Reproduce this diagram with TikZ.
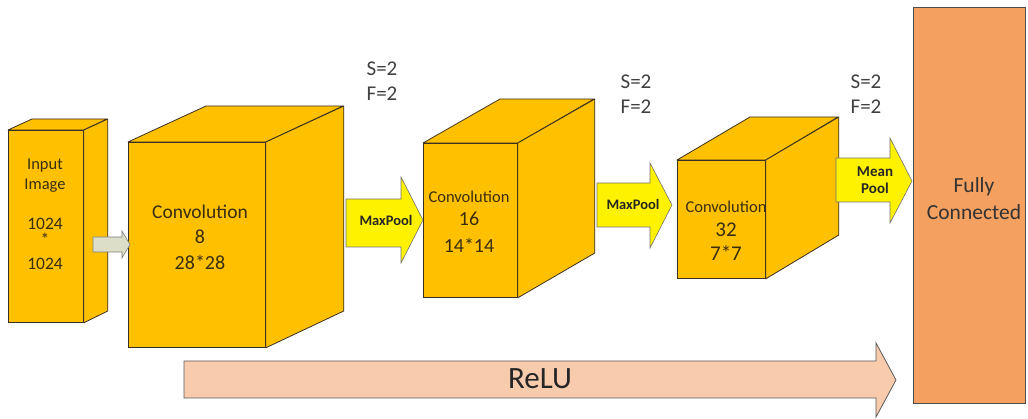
\documentclass[tikz,border=0pt]{standalone}
\usepackage{fontspec}
\setmainfont{Carlito}
\definecolor{gold}{HTML}{FFC000}
\definecolor{edge}{HTML}{3A3020}
\definecolor{ytxt}{HTML}{3A2E10}
\definecolor{relufill}{HTML}{F8CBAD}
\definecolor{fcfill}{HTML}{F4A060}
\definecolor{greyarrow}{HTML}{DCDEC8}
\newcommand{\mycube}[7]{%
  \node[front, minimum width=#4pt, minimum height=#5pt, anchor=north west] (#1) at (#2,#3) {};
  \draw[face] (#1.north west) -- ++(#6,-#7) -- ++(#4,0) -- (#1.north east) -- cycle;
  \draw[face] (#1.north east) -- ++(#6,-#7) -- ++(0,#5) -- (#1.south east) -- cycle;
}
\newcommand{\fs}[2]{\fontsize{#1}{#2}\selectfont}
\begin{document}
\begin{tikzpicture}[x=1pt,y=-1pt,
  front/.style={draw=edge, fill=gold, line width=0.8pt, inner sep=0pt},
  face/.style={draw=edge, fill=gold, line width=0.8pt, line join=round},
  ctext/.style={text=ytxt, align=center, inner sep=0pt},
  sf/.style={text=black!75, font=\fs{21}{25}, inner sep=0pt},
  yarrow/.style={draw=black!55, fill=yellow, line width=0.6pt},
  ptext/.style={text=black!85, font=\bfseries\fs{14.5}{16.5}, inner sep=0pt, align=center}]
\useasboundingbox (0,0) rectangle (1028,419);

% cuboids
\mycube{in}{8}{130}{75}{192}{24}{11}
\mycube{c1}{128}{142}{137}{205}{78}{36}
\mycube{c2}{423}{143}{94}{154}{77}{44}
\mycube{c3}{677}{160}{88}{118}{73}{43}

% fully connected
\node[draw=black!70, fill=fcfill, line width=0.8pt, minimum width=112pt, minimum height=396pt, anchor=north west, inner sep=0pt] (fc) at (913,7) {};
\node[ctext, text=black!80, font=\fs{21.5}{27}] (fct) at (974,198.5) {Fully\\Connected};

% ReLU arrow
\draw[draw=black!65, fill=relufill, line width=0.8pt] (184,361) -- (876,361) -- (876,343) -- (896,380) -- (876,417) -- (876,398) -- (184,398) -- cycle;
\node[text=black!85, font=\fs{31}{32}, inner sep=0pt] (relu) at (540,379) {ReLU};

% small input arrow
\draw[draw=black!50, fill=greyarrow, line width=0.6pt] (93,237) -- (122,237) -- (122,231) -- (130,244.5) -- (122,258) -- (122,252) -- (93,252) -- cycle;

% pool arrows
\draw[yarrow] (346,199) -- (401,199) -- (401,177) -- (423,220) -- (401,263) -- (401,247) -- (346,247) -- cycle;
\node[ptext] (mp1) at (386,220) {MaxPool};
\draw[yarrow] (597,183) -- (650,183) -- (650,163) -- (672,205) -- (650,248) -- (650,227) -- (597,227) -- cycle;
\node[ptext] (mp2) at (633,204) {MaxPool};
\draw[yarrow] (836,158) -- (890,158) -- (890,138) -- (912,181) -- (890,223) -- (890,202) -- (836,202) -- cycle;
\node[ptext, font=\bfseries\fs{15}{16.5}] (mp3) at (875,180) {Mean\\Pool};

% cuboid texts
\node[ctext, font=\fs{17.5}{20}] (inT) at (45,214) {{\fs{16.5}{20}Input}\\{\fs{16.5}{20}Image}\\[20pt]1024\\[-4pt]*\\[4pt]1024};
\node[ctext, font=\fs{20}{25.5}] (c1T) at (200,237) {{\fs{19.5}{25.5}Convolution}\\8\\28*28};
\node[ctext, font=\fs{20}{25}] (c2T) at (469,222) {{\fs{16.5}{25}Convolution}\\[-2pt]16\\[2pt]14*14};
\node[ctext, font=\fs{21}{24}] (c3T) at (726,231) {{\fs{16.5}{24}Convolution}\\32\\7*7};

% S/F labels
\node[sf] (s1) at (382,69) {S=2};
\node[sf] (f1) at (382,94) {F=2};
\node[sf] (s2) at (636,82) {S=2};
\node[sf] (f2) at (636,107) {F=2};
\node[sf] (s3) at (866,82) {S=2};
\node[sf] (f3) at (866,107) {F=2};
\end{tikzpicture}
\end{document}
